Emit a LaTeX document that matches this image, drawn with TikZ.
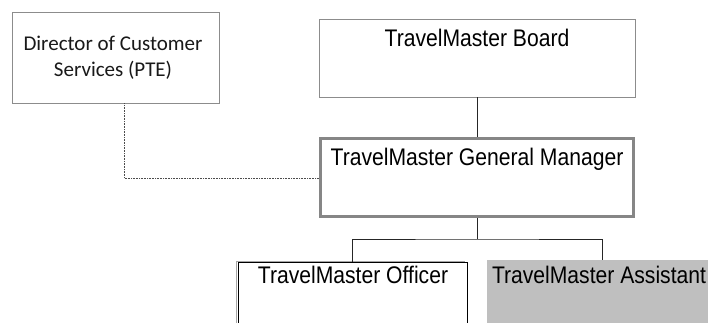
\documentclass[tikz,border=0pt]{standalone}
\usepackage{fontspec}
\setmainfont{Liberation Sans}
\newfontfamily\tmfont[FakeStretch=0.88]{Liberation Sans}
\newfontfamily\calfont{Carlito}
\begin{document}
\begin{tikzpicture}[x=1pt,y=-1pt,
  box/.style={draw=gray!90, line width=0.9pt, fill=white, inner sep=0pt},
  tmtext/.style={anchor=base, inner sep=0pt, font=\tmfont\fontsize{24}{28}\selectfont, text=black},
  conn/.style={draw=black!85, line width=0.9pt},
  dotconn/.style={draw=black!70, line width=0.8pt, dash pattern=on 0.8pt off 0.8pt}]
\useasboundingbox (0,0) rectangle (708,322);
\clip (0,0) rectangle (708,322);
% Director
\node[box, minimum width=207, minimum height=91] (dir) at (115.5,57.5) {};
\node[anchor=base, inner sep=0pt, align=center, font=\calfont\fontsize{21}{26}\selectfont, text=black!90] (dirt) at (113,76) {Director of Customer\\Services (PTE)};
% Board
\node[box, minimum width=316, minimum height=78] (board) at (477,58) {};
\node[tmtext] (boardt) at (477,46) {TravelMaster Board};
% General Manager
\node[box, draw=gray!95, line width=3pt, minimum width=313, minimum height=78] (gm) at (477,177.5) {};
\node[tmtext] (gmt) at (477,165) {TravelMaster General Manager};
% Officer
\draw[draw=gray!70, line width=0.8pt] (236,340) -- (236,261) -- (465,261);
\node[box, draw=black, minimum width=229, minimum height=80] (off) at (352.5,302) {};
\node[tmtext] (offt) at (353,283) {TravelMaster Officer};
% Assistant
\node[draw=none, fill=gray!50, inner sep=0pt, minimum width=230, minimum height=80, anchor=north west] (ast) at (487,260) {};
\node[tmtext] (astt) at (599,283) {TravelMaster Assistant};
% connectors
\draw[conn] (board.south) -- (gm.north);
\coordinate (bar) at (477,239);
\draw[conn] (gm.south) -- (bar);
\draw[conn] (off.north) |- (bar) -| (ast.north);
\coordinate (dk) at (124,178);
\draw[dotconn] (dk |- dir.south) -- (dk) -- (dk -| gm.west);
\end{tikzpicture}
\end{document}
